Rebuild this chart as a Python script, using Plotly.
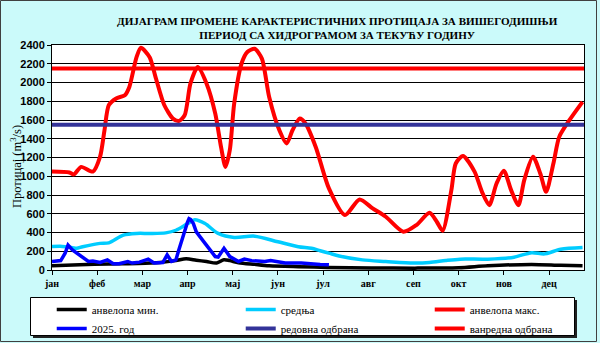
import plotly.graph_objects as go

# ---- data -------------------------------------------------------------
month_labels = ["јан", "феб", "мар", "апр", "мај", "јун",
                "јул", "авг", "сеп", "окт", "нов", "дец"]
month_ticks = [1 + 31 * k for k in range(12)]

# envelope minimum (day of year, m3/s)
min_days = [1, 20, 40, 60, 75, 86, 93, 100, 107, 114, 119, 123, 129, 140,
            150, 170, 190, 220, 250, 280, 300, 330, 350, 365]
min_vals = [45, 55, 65, 70, 80, 100, 120, 105, 90, 75, 110, 100, 78, 60,
            45, 35, 28, 22, 20, 25, 45, 60, 50, 45]

# mean flow
mean_days = [1, 8, 15, 18, 22, 34, 40, 50, 59, 68, 79, 86, 94, 99, 106,
             115, 126, 140, 156, 170, 179, 185, 191, 198, 214, 230, 249,
             260, 271, 281, 300, 318, 330, 339, 350, 365]
mean_vals = [250, 252, 238, 232, 248, 284, 290, 372, 390, 390, 396, 424,
             495, 537, 495, 390, 347, 361, 301, 249, 232, 205, 180, 150,
             108, 91, 74, 80, 101, 116, 116, 137, 185, 172, 221, 240]

# envelope maximum
max_days = [1, 13, 16, 21, 29, 34, 37, 40, 45, 51, 54, 59, 62, 68, 72, 78,
            84, 88, 92, 96, 101, 107, 113, 117, 120, 123, 126, 131, 135,
            140, 145, 150, 157, 162, 166, 171, 175, 182, 191, 202, 212,
            221, 230, 242, 251, 260, 265, 269, 275, 278, 283, 291, 296,
            301, 306, 311, 316, 321, 325, 331, 336, 340, 345, 349, 356, 365]
max_vals = [1050, 1040, 1020, 1100, 1050, 1210, 1490, 1760, 1830, 1865,
            1950, 2270, 2370, 2270, 2060, 1760, 1615, 1590, 1650, 1990,
            2165, 1990, 1670, 1310, 1100, 1280, 1775, 2200, 2325, 2360,
            2255, 1845, 1490, 1350, 1490, 1615, 1560, 1310, 870, 586, 753,
            657, 568, 408, 479, 610, 515, 419, 852, 1136, 1217, 1047, 834,
            692, 923, 1058, 852, 692, 959, 1207, 1030, 834, 1136, 1420,
            1598, 1793]

# current year hydrograph
cur_days = [1, 7, 10, 12, 15, 20, 23, 26, 29, 34, 39, 43, 47, 53, 56, 61,
            67, 71, 77, 80, 83, 86, 88, 92, 94, 95, 96, 98, 100, 106, 113,
            115, 117, 119, 123, 129, 133, 138, 147, 151, 161, 172, 185, 191]
cur_vals = [91, 101, 179, 266, 214, 161, 126, 91, 95, 80, 108, 66, 66, 91,
            74, 84, 116, 74, 80, 161, 91, 108, 214, 424, 512, 548, 540, 495,
            407, 284, 143, 137, 179, 232, 143, 91, 116, 100, 91, 101, 74, 74,
            60, 56]

# flood defence thresholds
regular_defence = 1550
emergency_defence = 2150
year_span = [1, 366]

# ---- layout geometry ----------------------------------------------------
W, H = 600, 343
ML, MR, MT, MB = 52, 16, 45, 73
PW, PH = W - ML - MR, H - MT - MB


def fx(px):
    return (px - ML) / PW


def fy(py):
    return (H - MB - py) / PH


SERIF = "Liberation Serif"
SANS = "Liberation Sans"

fig = go.Figure()

fig.add_trace(go.Scatter(x=min_days, y=min_vals, name="анвелопа мин.",
                         mode="lines", line=dict(color="#000000", width=3.5,
                                                 shape="spline", smoothing=0.8)))
fig.add_trace(go.Scatter(x=mean_days, y=mean_vals, name="средња",
                         mode="lines", line=dict(color="#00ccff", width=3.5,
                                                 shape="spline", smoothing=0.8)))
fig.add_trace(go.Scatter(x=max_days, y=max_vals, name="анвелопа макс.",
                         mode="lines", line=dict(color="#ff0000", width=4,
                                                 shape="spline", smoothing=0.7)))
fig.add_trace(go.Scatter(x=cur_days, y=cur_vals, name="2025. год",
                         mode="lines", line=dict(color="#0000ff", width=3.5)))
fig.add_trace(go.Scatter(x=year_span, y=[regular_defence] * 2,
                         name="редовна одбрана", mode="lines",
                         line=dict(color="#333399", width=4)))
fig.add_trace(go.Scatter(x=year_span, y=[emergency_defence] * 2,
                         name="ванредна одбрана", mode="lines",
                         line=dict(color="#ff0000", width=4)))

shapes = [
    # outer frame
    dict(type="rect", xref="paper", yref="paper",
         x0=fx(0.5), x1=fx(596.5), y0=fy(0.5), y1=fy(341.5),
         line=dict(color="#404040", width=1), fillcolor="rgba(0,0,0,0)",
         layer="below"),
    # legend box shadow
    dict(type="rect", xref="paper", yref="paper",
         x0=fx(33), x1=fx(577), y0=fy(300), y1=fy(338),
         line=dict(width=0), fillcolor="#202020", layer="above"),
    # legend box
    dict(type="rect", xref="paper", yref="paper",
         x0=fx(30.5), x1=fx(574.5), y0=fy(297.5), y1=fy(335.5),
         line=dict(color="#000000", width=1), fillcolor="#ffffff",
         layer="above"),
]

annotations = [
    dict(text="ДИЈАГРАМ ПРОМЕНЕ КАРАКТЕРИСТИЧНИХ ПРОТИЦАЈА ЗА ВИШЕГОДИШЊИ"
              "<br>ПЕРИОД СА ХИДРОГРАМОМ ЗА ТЕКУЋУ ГОДИНУ",
         xref="paper", yref="paper", x=fx(337), y=fy(28),
         xanchor="center", yanchor="middle", showarrow=False,
         font=dict(family=SERIF, size=11.1, color="#000000", weight="bold")),
    dict(text="Протицај (m<sup>3</sup>/s)", textangle=-90,
         xref="paper", yref="paper", x=fx(16), y=fy(167),
         xanchor="center", yanchor="middle", showarrow=False,
         font=dict(family=SERIF, size=12.5, color="#000000")),
]

fig.update_layout(
    width=W, height=H,
    margin=dict(l=ML, r=MR, t=MT, b=MB, pad=0, autoexpand=False),
    paper_bgcolor="#cbfafa",
    plot_bgcolor="#ffffff",
    shapes=shapes,
    annotations=annotations,
    showlegend=True,
    legend=dict(orientation="h", x=-0.0005, xanchor="left",
                y=fy(295), yanchor="top",
                bgcolor="rgba(0,0,0,0)", borderwidth=0,
                entrywidth=144, entrywidthmode="pixels",
                font=dict(family=SERIF, size=11, color="#000000"),
                tracegroupgap=0, itemclick=False),
    xaxis=dict(range=[1, 366], tickmode="array", tickvals=month_ticks,
               ticktext=month_labels, ticks="outside", ticklen=4,
               tickcolor="#000000", showgrid=False, zeroline=False,
               showline=True, linecolor="#000000", linewidth=1, mirror=True,
               tickfont=dict(family=SERIF, size=10, color="#000000",
                             weight="bold")),
    yaxis=dict(range=[0, 2400], dtick=200, ticks="outside", ticklen=4,
               tickcolor="#000000", showgrid=True, gridcolor="#000000",
               gridwidth=1, zeroline=False, showline=True,
               linecolor="#000000", linewidth=1, mirror=True,
               tickfont=dict(family=SANS, size=11, color="#000000",
                             weight="bold")),
)

fig.write_html("out.html")
